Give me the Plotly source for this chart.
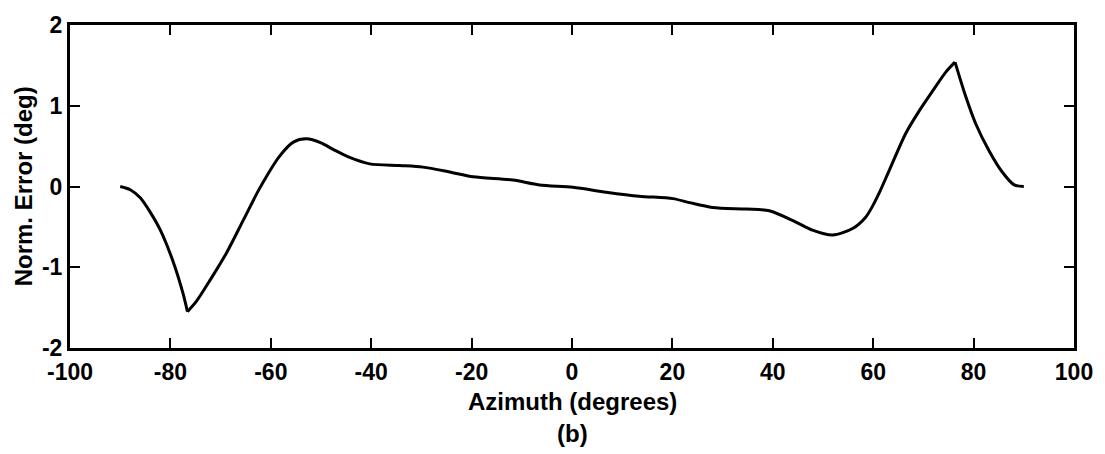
import plotly.graph_objects as go

# Normalized azimuth error curve (degrees)
azimuth = [-90, -88, -86, -84, -82, -79.4, -77.5, -76.6, -74.8, -72, -68.8, -65.5,
           -62.2, -58.2, -55.5, -52.9, -50, -47.6, -44.3, -40.3, -34.3, -29.7,
           -24.4, -19.7, -11.8, -6.5, 0.2, 6.8, 13.4, 20.1, 23.4, 28, 34.7, 39.3,
           44.6, 47.9, 51.9, 55.9, 58.5, 59.9, 61.2, 63.2, 66.5, 69.2, 71.8, 74.5,
           76.3, 78.4, 80.4, 83.1, 85.7, 88.1, 90]
norm_error = [0.0, -0.04, -0.14, -0.32, -0.54, -0.94, -1.32, -1.55, -1.42, -1.15,
              -0.82, -0.42, -0.02, 0.38, 0.55, 0.59, 0.54, 0.46, 0.36, 0.28, 0.26,
              0.24, 0.18, 0.12, 0.08, 0.02, -0.01, -0.07, -0.12, -0.15, -0.2, -0.26,
              -0.28, -0.30, -0.44, -0.54, -0.60, -0.52, -0.38, -0.24, -0.08, 0.2,
              0.66, 0.94, 1.18, 1.42, 1.54, 1.12, 0.78, 0.44, 0.18, 0.02, 0.0]

x_ticks = [-100, -80, -60, -40, -20, 0, 20, 40, 60, 80, 100]
y_ticks = [-2, -1, 0, 1, 2]

font_family = "Liberation Sans, Arial, sans-serif"

# The curve has sharp corners at its extremes; draw smooth pieces between them
i_min = norm_error.index(min(norm_error))
i_max = norm_error.index(max(norm_error))
pieces = [(0, i_min), (i_min, i_max), (i_max, len(azimuth) - 1)]

fig = go.Figure()
for a, b in pieces:
    fig.add_trace(go.Scatter(x=azimuth[a:b + 1], y=norm_error[a:b + 1], mode="lines",
                             line=dict(color="black", width=3, shape="spline",
                                       smoothing=0.8)))

tick_font = dict(family=font_family, size=23, color="black", weight="bold")
axis_style = dict(showline=True, linecolor="black", linewidth=3, mirror="ticks",
                  ticks="inside", ticklen=10, tickwidth=2, tickcolor="black",
                  showgrid=False, zeroline=False, tickfont=tick_font)

fig.update_xaxes(range=[-100, 100], tickvals=x_ticks,
                 ticktext=[str(v) for v in x_ticks], ticklabelstandoff=1, **axis_style)
fig.update_yaxes(range=[-2, 2], tickvals=y_ticks,
                 ticktext=[str(v) for v in y_ticks], ticklabelstandoff=0, **axis_style)

title_font = dict(family=font_family, size=24, color="black", weight="bold")
fig.update_layout(
    width=1105, height=454,
    margin=dict(l=70, r=30, t=15, b=106),
    plot_bgcolor="white", paper_bgcolor="white",
    showlegend=False,
    font=dict(family=font_family, color="black"),
    annotations=[
        dict(text="Azimuth (degrees)", xref="paper", yref="paper",
             x=0.5, y=-0.165, xanchor="center", yanchor="middle",
             showarrow=False, font=title_font),
        dict(text="(b)", xref="paper", yref="paper",
             x=0.5, y=-0.265, xanchor="center", yanchor="middle",
             showarrow=False, font=title_font),
        dict(text="Norm. Error (deg)", xref="paper", yref="paper",
             x=-0.046, y=0.5, xanchor="center", yanchor="middle", textangle=-90,
             showarrow=False, font=title_font),
    ],
)

fig.write_html("out.html")
